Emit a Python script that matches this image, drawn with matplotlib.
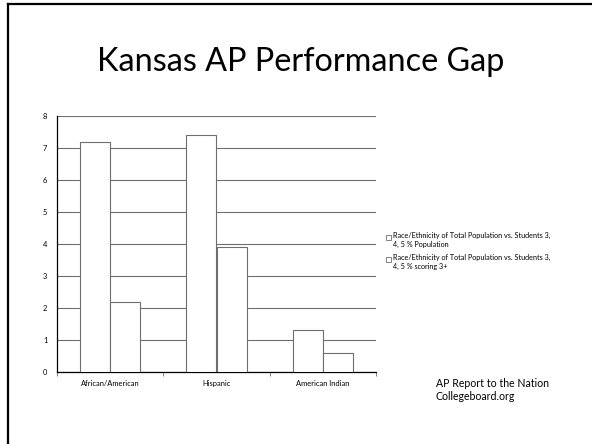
import numpy as np
import matplotlib
matplotlib.use("Agg")
import matplotlib.pyplot as plt
from matplotlib.patches import Rectangle
from matplotlib.lines import Line2D

# data
categories = ["African/American", "Hispanic", "American Indian"]
pct_population = [7.2, 7.4, 1.3]
pct_scoring = [2.2, 3.9, 0.6]
series_labels = [
    "Race/Ethnicity of Total Population vs. Students 3,\n4, 5 % Population",
    "Race/Ethnicity of Total Population vs. Students 3,\n4, 5 % scoring 3+",
]

plt.rcParams["font.family"] = ["Lato", "DejaVu Sans"]

W, H = 592, 444
fig = plt.figure(figsize=(W / 100, H / 100), dpi=100)
fig.patch.set_facecolor("white")

# slide border (left and top only visible)
fig.add_artist(Line2D([8 / W, 8 / W], [0, 1 - 4 / H], color="black", lw=1.6,
                      transform=fig.transFigure))
fig.add_artist(Line2D([8 / W, 1], [1 - 4 / H, 1 - 4 / H], color="black", lw=1.6,
                      transform=fig.transFigure))

fig.text(301 / W, 1 - 62 / H, "Kansas AP Performance Gap", fontsize=23.3,
         ha="center", va="center", color="black")

ax = fig.add_axes([57 / W, 1 - 372 / H, (376 - 57) / W, (372 - 116) / H])
x = np.arange(len(categories))
bw = 0.285
grey = "#6e6e6e"
ax.bar(x - bw / 2, pct_population, width=bw, facecolor="white", edgecolor=grey,
       linewidth=0.8, zorder=3)
ax.bar(x + bw / 2, pct_scoring, width=bw, facecolor="white", edgecolor=grey,
       linewidth=0.8, zorder=3)

ax.set_xlim(-0.5, len(categories) - 0.5)
ax.set_ylim(0, 8)
ax.set_yticks(range(0, 9))
ax.yaxis.grid(True, color=grey, linewidth=0.8, zorder=0)
ax.set_axisbelow(True)

ax.set_xticks(np.arange(-0.5, len(categories), 1.0))
ax.set_xticklabels([])
ax.set_xticks(x, minor=True)
ax.set_xticklabels(categories, minor=True, fontsize=5.4)
ax.tick_params(axis="x", which="major", length=3, color=grey, width=0.6)
ax.tick_params(axis="x", which="minor", length=0, pad=6)
ax.tick_params(axis="y", length=0, labelsize=5.4, pad=7)

for s in ["top", "right"]:
    ax.spines[s].set_visible(False)
ax.spines["left"].set_linewidth(0.9)
ax.spines["bottom"].set_linewidth(0.9)

# legend drawn by hand so the box sits next to the first line
for i, lab in enumerate(series_labels):
    ytop = 232 + i * 22
    fig.add_artist(Rectangle((386 / W, 1 - (ytop + 8) / H), 5 / W, 5 / H,
                             transform=fig.transFigure, facecolor="white",
                             edgecolor=grey, linewidth=0.6))
    fig.text(393 / W, 1 - ytop / H, lab, fontsize=5.2, ha="left", va="top",
             linespacing=1.35)

fig.text(436 / W, 1 - 390 / H, "AP Report to the Nation\nCollegeboard.org",
         fontsize=7.6, ha="left", va="center", linespacing=1.2)

fig.savefig("out.png", dpi=100)
